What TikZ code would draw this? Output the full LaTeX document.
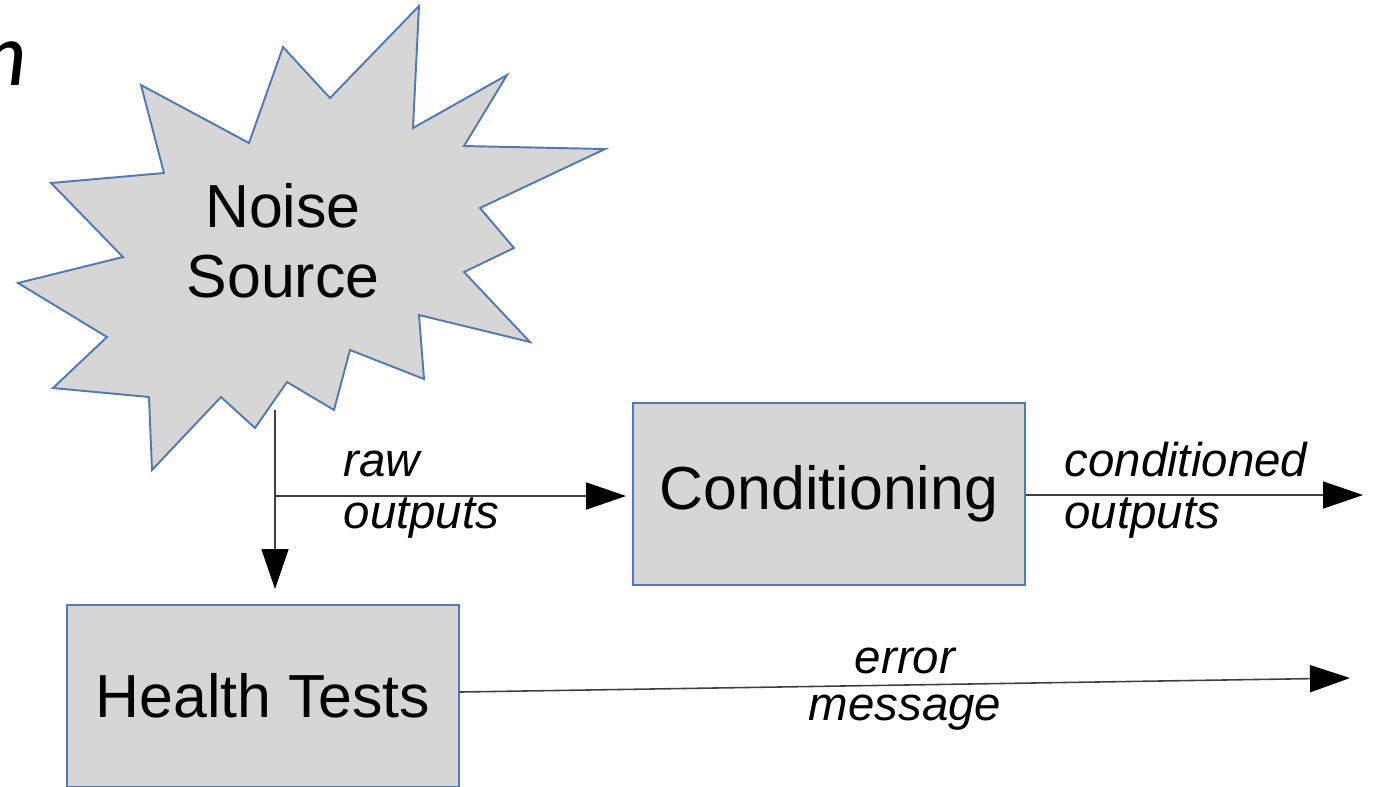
\documentclass[tikz,border=0pt]{standalone}
\usepackage{fontspec}
\setmainfont{Liberation Sans}
\newfontfamily\titlefont{Carlito}
\usetikzlibrary{arrows.meta}
\definecolor{shapefill}{RGB}{214,214,214}
\definecolor{shapeline}{RGB}{84,120,176}

\begin{document}
\begin{tikzpicture}[x=0.1mm, y=-0.1mm,
		box/.style={draw=shapeline, fill=shapefill, line width=0.55pt, minimum width=39.2mm, minimum height=18.2mm, inner sep=0pt, font=\fontsize{17.3}{20}\selectfont},
		lbl/.style={inner sep=0pt, font=\fontsize{13.5}{15}\selectfont\itshape},
		arr/.style={draw=black!75, line width=0.45pt, -{Triangle[length=4mm, width=2.7mm, color=black]}}]
		\useasboundingbox(0, 0) rectangle (1373, 786);
		\node[anchor=base east, inner sep=0pt, font=\fontsize{25.7}{26}\selectfont\titlefont\itshape](ttl) at (28, 85){n};
		\draw[draw=shapeline, fill=shapefill, line width=0.55pt](419, 6)--(413, 128)--(507, 75)--(464, 146)--(605, 149)--(480, 208)--(514, 248)--(464, 272)--(530, 342)--(419, 315)--(424, 379)--(350, 350)--(334, 410)--(287, 382)--(255, 428)--(221, 397)--(152, 470)--(149, 397)--(53, 388)--(107, 337)--(18, 283)--(123, 257)--(51, 183)--(164, 173)--(141, 85)--(249, 143)--(283, 47)--(330, 98)--cycle;
		\node[align=center, inner sep=0pt, font=\fontsize{17.3}{20}\selectfont](noise) at (283, 241){Noise\\Source};
		\node[box](cond) at (829, 494){Conditioning};
		\node[box](health) at (263, 696){Health Tests};
		\coordinate(stem) at (275, 410);
		\coordinate(split) at (275, 496);
		\coordinate(condout) at (1363, 495);
		\coordinate(errout) at (1350, 678);
		\draw[arr, shorten >=1.5mm](stem)--([xshift=1.2mm]health.north);
		\draw[arr, shorten >=0.6mm](split)--(split -| cond.west)node[lbl, pos=.19, anchor=base west, yshift=1.95mm](lraw){raw}node[lbl, pos=.19, anchor=base west, yshift=-3.25mm](lrawout){outputs};
		\draw[arr]([yshift=-0.1mm]cond.east)--(condout)node[lbl, pos=.112, anchor=base west, yshift=1.9mm](lcond){conditioned}node[lbl, pos=.112, anchor=base west, yshift=-3.3mm](lcondout){outputs};
		\draw[arr]([yshift=0.4mm]health.east)--(errout)node[lbl, midway, anchor=base, yshift=1.2mm](lerr){error}node[lbl, midway, anchor=base, yshift=-3.5mm](lmsg){message};
	\end{tikzpicture}
\end{document}
